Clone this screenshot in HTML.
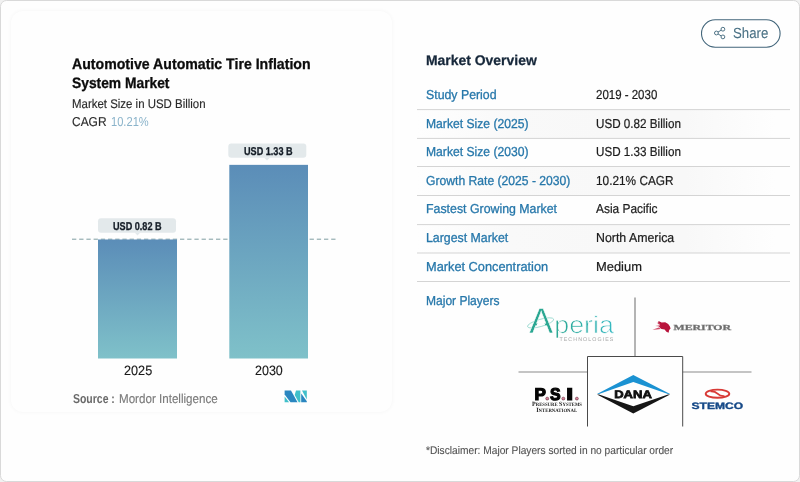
<!DOCTYPE html>
<html lang="en">
<head>
<meta charset="utf-8">
<title>Automotive Automatic Tire Inflation System Market</title>
<style>
html,body{margin:0;padding:0;background:#f1f1f1;}
body{width:800px;height:482px;overflow:hidden;position:relative;font-family:"Liberation Sans",sans-serif;}
#frame{position:absolute;left:0;top:0;width:798px;height:480px;border:1px solid #d9d9d9;border-radius:6.5px;background:#fefefe;}
#card{position:absolute;left:11px;top:11px;width:381px;height:401px;border-radius:12px;background:#fefefe;box-shadow:0 0 4px rgba(0,0,0,0.045);}
.t{position:absolute;white-space:nowrap;transform-origin:0 50%;display:block;text-rendering:geometricPrecision;}
.stripe{position:absolute;left:417px;width:373px;background:linear-gradient(90deg,#fefefe,#f9f9f9 25%,#f8f8f8 50%,#f8f8f8 72%,#fefefe 96%);}
svg{position:absolute;left:0;top:0;}
</style>
</head>
<body>
<div id="frame"></div>
<div id="card"></div>
<div class="stripe" style="top:110px;height:28px"></div>
<div class="stripe" style="top:167px;height:28px"></div>
<div class="stripe" style="top:225px;height:28px"></div>
<svg width="800" height="482" viewBox="0 0 800 482">
<defs>
<linearGradient id="bg" x1="0" y1="0" x2="0" y2="1">
<stop offset="0" stop-color="#5b8db8"/><stop offset="1" stop-color="#7fc1c9"/>
</linearGradient>
<linearGradient id="ag" gradientUnits="userSpaceOnUse" x1="554" y1="0" x2="614" y2="0"><stop offset="0" stop-color="#2aa792"/><stop offset="1" stop-color="#38b9c2"/></linearGradient>
</defs>
<!-- table rules -->
<rect x="417" y="109.10" width="373" height="1" fill="#d4d4d4"/>
<rect x="417" y="137.90" width="373" height="1" fill="#d4d4d4"/>
<rect x="417" y="166.00" width="373" height="1" fill="#d4d4d4"/>
<rect x="417" y="195.00" width="373" height="1" fill="#d4d4d4"/>
<rect x="417" y="224.10" width="373" height="1" fill="#d4d4d4"/>
<rect x="417" y="252.50" width="373" height="1" fill="#d4d4d4"/>
<rect x="417" y="281.00" width="373" height="1" fill="#d4d4d4"/>
<!-- chart -->
<line x1="72" y1="239.2" x2="337" y2="239.2" stroke="#7f9da1" stroke-width="1" stroke-dasharray="4.3 2.9"/>
<rect x="98" y="239.5" width="79" height="119" fill="url(#bg)"/>
<rect x="229.3" y="164.85" width="78.7" height="193.65" fill="url(#bg)"/>
<rect x="98" y="218.3" width="78" height="14.4" rx="3" fill="#e3e9eb"/>
<path d="M134.7 232.6 L140.3 232.6 L137.5 235.4 Z" fill="#e3e9eb"/>
<rect x="228.3" y="143.4" width="78" height="14.4" rx="3" fill="#e3e9eb"/>
<path d="M264.2 157.7 L269.8 157.7 L267 160.5 Z" fill="#e3e9eb"/>
<!-- mordor logo -->
<g>
<path d="M284.6 390.5 L291 390.5 L297.5 402.25 L290.5 402.25 L284.6 394.6 Z" fill="#2a86c0"/>
<path d="M284.6 396.6 L289.1 402.25 L284.6 402.25 Z" fill="#40c0ca"/>
<path d="M296 390.5 L300.4 390.5 L300.4 402.25 L298.7 402.25 L294.7 395 Z" fill="#40c0ca"/>
<path d="M301.2 393.6 L306.8 401.2 L306.8 402.25 L301.2 402.25 Z" fill="#2a86c0"/>
<path d="M302 390.5 L306.8 390.5 L306.8 399.4 Z" fill="#40c0ca"/>
</g>
<!-- share button -->
<rect x="701.5" y="19.8" width="78.6" height="27.4" rx="13.7" fill="#fff" stroke="#43667b" stroke-width="1.1"/>
<!-- share icon -->
<g fill="none" stroke="#4f7386" stroke-width="1">
<circle cx="716.4" cy="33" r="1.9"/><circle cx="722.9" cy="29.2" r="1.9"/><circle cx="722.9" cy="36.9" r="1.9"/>
<path d="M718 32.1 L721.3 30.1 M718 33.9 L721.3 36"/>
</g>
<!-- players grid -->
<g stroke="#5a5a5a" stroke-width="1" fill="none">
<path d="M635 297.5 V356.5" stroke="#6a6a6a"/>
<path d="M518.5 372 H587.5 M682.7 372 H751.5" stroke="#8a8a8a"/>
<path d="M587.5 426.5 V356.5 H682.7 V426.5" stroke="#4a4a4a"/>
</g>
<!-- Aperia -->
<g style="text-rendering:geometricPrecision">
<clipPath id="aclip"><path clip-rule="evenodd" d="M520 300 H560 V340 H520 Z M541.2 314.5 L548.6 333.5 L533 333.5 Z"/></clipPath>
<ellipse cx="540.6" cy="322.9" rx="13.6" ry="3.6" transform="rotate(-16 540.6 322.9)" fill="none" stroke="#6fcabc" stroke-width="0.6"/>
<text x="529.3" y="332.8" font-family="Liberation Sans, sans-serif" font-size="35.6" fill="#2aa792" stroke="#fff" stroke-width="0.5" textLength="23.8" lengthAdjust="spacingAndGlyphs" clip-path="url(#aclip)">A</text>
<text x="554.3" y="332.8" font-family="Liberation Sans, sans-serif" font-size="24.3" fill="url(#ag)" stroke="#fff" stroke-width="0.7" textLength="59.6" lengthAdjust="spacingAndGlyphs">peria</text>
<text x="559.4" y="341.1" font-family="Liberation Sans, sans-serif" font-size="5.3" fill="#a6a6a6" textLength="54" lengthAdjust="spacing">TECHNOLOGIES</text>
</g>
<!-- Meritor -->
<g style="text-rendering:geometricPrecision">
<path d="M658.6 320.9 L661.6 322.6 L665.2 322.3 L668.2 324 L669.8 326.2 L670.6 328.6 L669.2 330 L668.6 332.8 L666.4 331.8 L664.6 329.6 L661.4 329 L658.6 326.6 L660.2 325 L658 323.4 Z" fill="#b8143c"/>
<path d="M652.4 329.8 L658.8 327.6 L661 329 L656.6 329.6 Z M655.2 326 L659.6 325.2 L660.4 326.4 Z M656.6 322.6 L660 323.6 L659 324.6 Z" fill="#cf4f6c"/>
<text x="673.5" y="329.8" font-family="Liberation Serif, serif" font-weight="700" font-size="7.7" fill="#6e6e6e" stroke="#6e6e6e" stroke-width="0.25" textLength="57.6" lengthAdjust="spacingAndGlyphs">MERITOR</text>
</g>
<!-- PSI -->
<g style="text-rendering:geometricPrecision" font-family="Liberation Sans, sans-serif" font-weight="700" fill="#050505" stroke="#050505">
<text x="534.4" y="399.5" font-size="17" stroke-width="1.2" textLength="11.4" lengthAdjust="spacingAndGlyphs">P</text>
<text x="550.1" y="399.5" font-size="17" stroke-width="1.2" textLength="10.6" lengthAdjust="spacingAndGlyphs">S</text>
<text x="566.3" y="399.5" font-size="17" stroke-width="1.2" textLength="6.8" lengthAdjust="spacingAndGlyphs">I</text>
<g font-size="13" stroke="none" text-anchor="middle"><text x="547.2" y="399.6">.</text><text x="563.3" y="399.6">.</text><text x="576.9" y="399.6">.</text></g>
<g fill="#d9849c" stroke="#5a2a36" stroke-width="0.5"><circle cx="547.2" cy="398.6" r="1.5"/><circle cx="563.3" cy="398.6" r="1.5"/><circle cx="576.9" cy="398.6" r="1.5"/></g>
<g font-family="Liberation Serif, serif" stroke="none" fill="#1c1c1c">
<text x="532" y="406.4" font-size="6.4" textLength="50" lengthAdjust="spacingAndGlyphs">P<tspan font-size="5">RESSURE</tspan> S<tspan font-size="5">YSTEMS</tspan></text>
<text x="536.2" y="412" font-size="6.4" textLength="41" lengthAdjust="spacingAndGlyphs">I<tspan font-size="5">NTERNATIONAL</tspan></text>
</g>
</g>
<!-- Dana -->
<g style="text-rendering:geometricPrecision">
<path d="M597 393.9 L633.3 375 L670.1 393.9 L668 393.9 L633.3 382.1 L599 393.9 Z" fill="#1b92d2"/>
<path d="M597 394.4 L633.3 413.6 L670.1 394.4 L668 394.4 L633.3 406.2 L599 394.4 Z" fill="#161616"/>
<text x="614.2" y="398.3" font-family="Liberation Sans, sans-serif" font-weight="700" font-size="10.9" fill="#101010" stroke="#101010" stroke-width="0.75" textLength="37.6" lengthAdjust="spacingAndGlyphs">DANA</text>
</g>
<!-- Stemco -->
<g style="text-rendering:geometricPrecision">
<ellipse cx="717.5" cy="393.7" rx="11.8" ry="4.1" fill="none" stroke="#d83a36" stroke-width="1.9"/>
<path d="M710.5 391.3 C719 390.6 716 396.8 724.5 396.1" fill="none" stroke="#d83a36" stroke-width="1.8"/>
<text x="691.5" y="409.4" font-family="Liberation Sans, sans-serif" font-weight="700" font-size="9.3" fill="#174a88" stroke="#174a88" stroke-width="0.35" textLength="51.6" lengthAdjust="spacingAndGlyphs">STEMCO</text>
</g>
</svg>
<span class="t" style="left:72.00px;top:57.02px;font-size:15.1px;line-height:15.1px;color:#0c0c0c;transform:scaleX(0.9359);font-weight:700;-webkit-text-stroke:0.3px #0c0c0c;">Automotive Automatic Tire Inflation</span>
<span class="t" style="left:72.00px;top:76.02px;font-size:15.1px;line-height:15.1px;color:#0c0c0c;transform:scaleX(0.9148);font-weight:700;-webkit-text-stroke:0.3px #0c0c0c;">System Market</span>
<span class="t" style="left:72.00px;top:98.03px;font-size:12.6px;line-height:12.6px;color:#2a2a2a;transform:scaleX(0.9086);-webkit-text-stroke:0.15px #2a2a2a;">Market Size in USD Billion</span>
<span class="t" style="left:72.00px;top:115.98px;font-size:12.9px;line-height:12.9px;color:#2a2a2a;transform:scaleX(0.9267);-webkit-text-stroke:0.15px #2a2a2a;">CAGR</span>
<span class="t" style="left:111.00px;top:115.00px;font-size:13.0px;line-height:13.0px;color:#8ab3ca;transform:scaleX(0.8549);">10.21%</span>
<span class="t" style="left:124.00px;top:364.09px;font-size:13.6px;line-height:13.6px;color:#1a1a1a;transform:scaleX(0.9315);-webkit-text-stroke:0.15px #1a1a1a;">2025</span>
<span class="t" style="left:255.00px;top:364.09px;font-size:13.6px;line-height:13.6px;color:#1a1a1a;transform:scaleX(0.9192);-webkit-text-stroke:0.15px #1a1a1a;">2030</span>
<span class="t" style="left:73.00px;top:393.08px;font-size:12.9px;line-height:12.9px;color:#6a6a6a;transform:scaleX(0.8116);font-weight:700;">Source :</span>
<span class="t" style="left:119.00px;top:393.08px;font-size:12.9px;line-height:12.9px;color:#7a7a7a;transform:scaleX(0.9003);-webkit-text-stroke:0.15px #7a7a7a;">Mordor Intelligence</span>
<span class="t" style="left:113.00px;top:221.83px;font-size:11.3px;line-height:11.3px;color:#141c26;transform:scaleX(0.8057);font-weight:700;-webkit-text-stroke:0.3px #141c26;">USD 0.82 B</span>
<span class="t" style="left:244.00px;top:146.93px;font-size:11.3px;line-height:11.3px;color:#141c26;transform:scaleX(0.8057);font-weight:700;-webkit-text-stroke:0.3px #141c26;">USD 1.33 B</span>
<span class="t" style="left:733.00px;top:26.86px;font-size:14.7px;line-height:14.7px;color:#4a7185;transform:scaleX(0.9005);-webkit-text-stroke:0.1px #4a7185;">Share</span>
<span class="t" style="left:426.00px;top:53.05px;font-size:14.0px;line-height:14.0px;color:#16273a;transform:scaleX(0.9950);font-weight:700;-webkit-text-stroke:0.25px #16273a;">Market Overview</span>
<span class="t" style="left:426.00px;top:88.00px;font-size:13.0px;line-height:13.0px;color:#2677aa;transform:scaleX(0.9480);-webkit-text-stroke:0.3px #2677aa;">Study Period</span>
<span class="t" style="left:596.00px;top:88.00px;font-size:13.0px;line-height:13.0px;color:#1c1c1c;transform:scaleX(0.8830);-webkit-text-stroke:0.22px #1c1c1c;">2019 - 2030</span>
<span class="t" style="left:426.00px;top:117.00px;font-size:13.0px;line-height:13.0px;color:#2677aa;transform:scaleX(0.9328);-webkit-text-stroke:0.3px #2677aa;">Market Size (2025)</span>
<span class="t" style="left:596.00px;top:117.00px;font-size:13.0px;line-height:13.0px;color:#1c1c1c;transform:scaleX(0.8970);-webkit-text-stroke:0.22px #1c1c1c;">USD 0.82 Billion</span>
<span class="t" style="left:426.00px;top:145.00px;font-size:13.0px;line-height:13.0px;color:#2677aa;transform:scaleX(0.9328);-webkit-text-stroke:0.3px #2677aa;">Market Size (2030)</span>
<span class="t" style="left:596.00px;top:145.00px;font-size:13.0px;line-height:13.0px;color:#1c1c1c;transform:scaleX(0.8970);-webkit-text-stroke:0.22px #1c1c1c;">USD 1.33 Billion</span>
<span class="t" style="left:426.00px;top:174.00px;font-size:13.0px;line-height:13.0px;color:#2677aa;transform:scaleX(0.9339);-webkit-text-stroke:0.3px #2677aa;">Growth Rate (2025 - 2030)</span>
<span class="t" style="left:596.00px;top:174.00px;font-size:13.0px;line-height:13.0px;color:#1c1c1c;transform:scaleX(0.9094);-webkit-text-stroke:0.22px #1c1c1c;">10.21% CAGR</span>
<span class="t" style="left:426.00px;top:202.00px;font-size:13.0px;line-height:13.0px;color:#2677aa;transform:scaleX(0.9497);-webkit-text-stroke:0.3px #2677aa;">Fastest Growing Market</span>
<span class="t" style="left:596.00px;top:202.00px;font-size:13.0px;line-height:13.0px;color:#1c1c1c;transform:scaleX(0.9156);-webkit-text-stroke:0.22px #1c1c1c;">Asia Pacific</span>
<span class="t" style="left:426.00px;top:231.00px;font-size:13.0px;line-height:13.0px;color:#2677aa;transform:scaleX(0.9478);-webkit-text-stroke:0.3px #2677aa;">Largest Market</span>
<span class="t" style="left:596.00px;top:231.00px;font-size:13.0px;line-height:13.0px;color:#1c1c1c;transform:scaleX(0.9492);-webkit-text-stroke:0.22px #1c1c1c;">North America</span>
<span class="t" style="left:426.00px;top:260.00px;font-size:13.0px;line-height:13.0px;color:#2677aa;transform:scaleX(0.9823);-webkit-text-stroke:0.3px #2677aa;">Market Concentration</span>
<span class="t" style="left:596.00px;top:260.00px;font-size:13.0px;line-height:13.0px;color:#1c1c1c;transform:scaleX(0.9924);-webkit-text-stroke:0.22px #1c1c1c;">Medium</span>
<span class="t" style="left:426.00px;top:294.00px;font-size:13.0px;line-height:13.0px;color:#2677aa;transform:scaleX(0.9254);-webkit-text-stroke:0.3px #2677aa;">Major Players</span>
<span class="t" style="left:426.00px;top:445.90px;font-size:11.1px;line-height:11.1px;color:#505050;transform:scaleX(0.9195);-webkit-text-stroke:0.1px #505050;">*Disclaimer: Major Players sorted in no particular order</span>
</body>
</html>
